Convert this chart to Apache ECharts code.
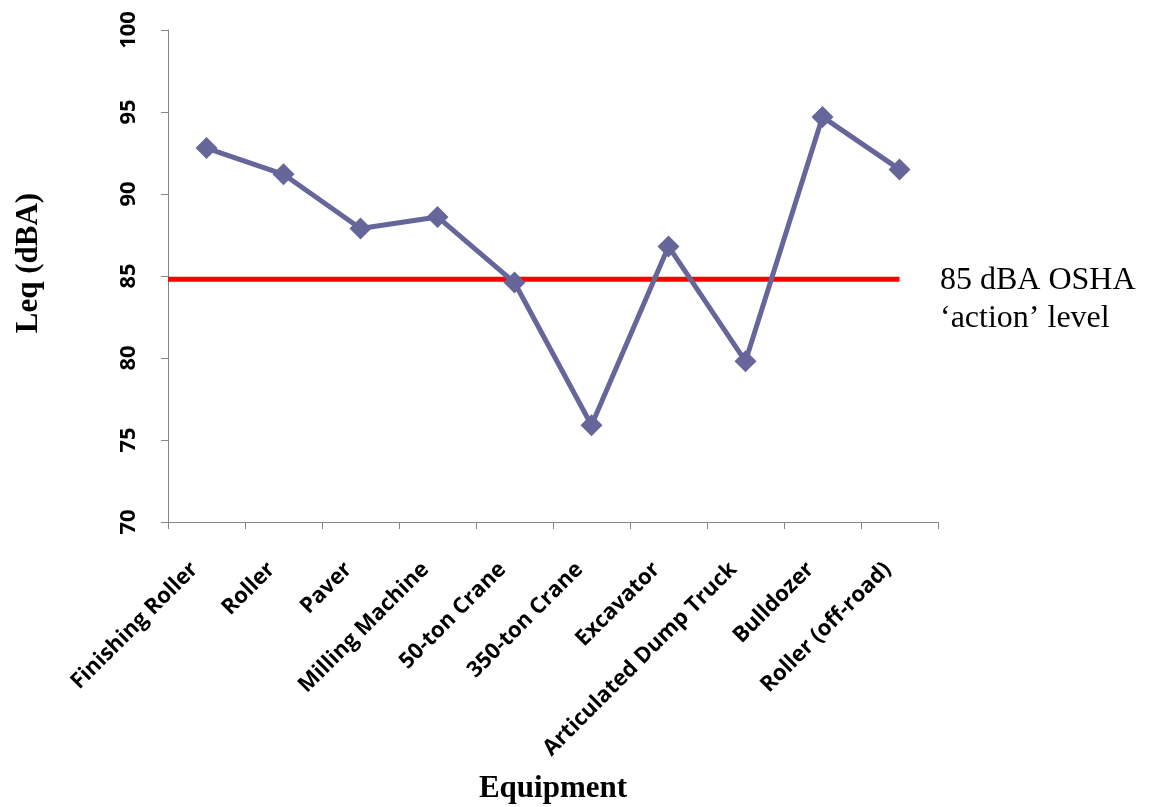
<!DOCTYPE html>
<html>
<head>
<meta charset="utf-8">
<script src="https://cdn.jsdelivr.net/npm/echarts@6/dist/echarts.min.js"></script>
<style>
  html, body { margin: 0; padding: 0; background: #ffffff; }
  #chart { width: 1152px; height: 807px; }
</style>
</head>
<body>
<div id="chart"></div>
<script>
// Equipment measured and its equivalent continuous sound level
const equipment = [
  'Finishing Roller', 'Roller', 'Paver', 'Milling Machine', '50-ton Crane',
  '350-ton Crane', 'Excavator', 'Articulated Dump Truck', 'Bulldozer', 'Roller (off-road)'
];
const leqValues = [92.8, 91.2, 87.9, 88.6, 84.6, 75.9, 86.8, 79.8, 94.7, 91.5];

// OSHA action level reference line (x in category-width units)
const actionLevel = 84.8;
const actionLineX = [0, 9.5];
const actionLabel = ['85 dBA OSHA', '\u2018action\u2019 level'];

// Y axis range
const yMin = 70, yMax = 100, yStep = 5;

const chart = echarts.init(document.getElementById('chart'), null, { renderer: 'canvas' });

const tickFont = '"Open Sans", "Noto Sans", sans-serif';
const serif = '"Liberation Serif", "Times New Roman", serif';
const axisGrey = '#868686';

chart.setOption({
  backgroundColor: '#ffffff',
  animation: false,
  grid: { left: 168, right: 214, top: 30, bottom: 285, containLabel: false },
  xAxis: [
    {
      type: 'category',
      data: equipment,
      boundaryGap: true,
      axisLine: { lineStyle: { color: axisGrey, width: 1 } },
      axisTick: { show: true, alignWithLabel: false, length: 7, lineStyle: { color: axisGrey } },
      splitLine: { show: false },
      axisLabel: {
        interval: 0,
        rotate: 45,
        margin: 32,
        padding: [0, 17, 0, 0],
        fontFamily: tickFont,
        fontWeight: 'bold',
        fontSize: 22,
        color: '#000000'
      }
    },
    {
      type: 'value',
      min: 0,
      max: equipment.length,
      show: false
    }
  ],
  yAxis: {
    type: 'value',
    min: yMin,
    max: yMax,
    interval: yStep,
    axisLine: { show: true, lineStyle: { color: axisGrey, width: 1 } },
    axisTick: { show: true, length: 7, lineStyle: { color: axisGrey } },
    splitLine: { show: false },
    axisLabel: {
      rotate: 90,
      margin: 28,
      fontFamily: tickFont,
      fontWeight: 'bold',
      fontSize: 22,
      color: '#000000'
    }
  },
  series: [
    {
      name: 'Leq',
      type: 'line',
      xAxisIndex: 0,
      data: leqValues,
      symbol: 'diamond',
      symbolSize: 22,
      lineStyle: { color: '#66669a', width: 5 },
      itemStyle: { color: '#66669a' },
      z: 3
    },
    {
      name: 'OSHA action level',
      type: 'line',
      xAxisIndex: 1,
      data: actionLineX.map(x => [x, actionLevel]),
      symbol: 'none',
      lineStyle: { color: '#ff0000', width: 5 },
      z: 2
    }
  ],
  graphic: [
    {
      type: 'text',
      left: 940,
      top: 262,
      style: {
        text: actionLabel.join('\n'),
        font: '32px ' + serif,
        lineHeight: 38,
        fill: '#000000'
      }
    },
    {
      type: 'text',
      x: 553,
      y: 789,
      style: {
        text: 'Equipment',
        font: 'bold 31px ' + serif,
        fill: '#000000',
        textAlign: 'center',
        textVerticalAlign: 'middle'
      }
    },
    {
      type: 'text',
      x: 29,
      y: 263,
      rotation: Math.PI / 2,
      style: {
        text: 'Leq (dBA)',
        font: 'bold 31px ' + serif,
        fill: '#000000',
        textAlign: 'center',
        textVerticalAlign: 'middle'
      }
    }
  ]
});
</script>
</body>
</html>
